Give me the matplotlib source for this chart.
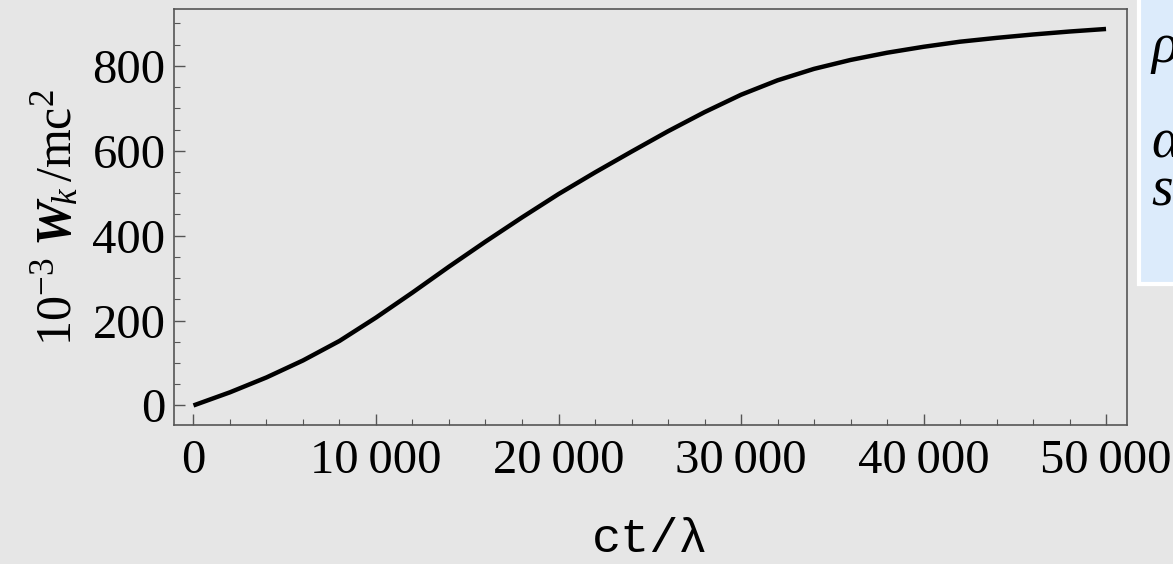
import matplotlib
matplotlib.use("Agg")
import matplotlib.pyplot as plt
from matplotlib.ticker import MultipleLocator, FuncFormatter
from matplotlib.patches import Rectangle

# curve
ct = [0, 2000, 4000, 6000, 8000, 10000, 12000, 14000, 16000, 18000, 20000,
      22000, 24000, 26000, 28000, 30000, 32000, 34000, 36000, 38000, 40000,
      42000, 44000, 46000, 48000, 50000]
wk = [0, 31, 66, 106, 152, 207, 266, 327, 386, 443, 498,
      549, 598, 646, 691, 732, 766, 793, 814, 831, 845,
      857, 866, 874, 881, 887]

xticks = [0, 10000, 20000, 30000, 40000, 50000]
yticks = [0, 200, 400, 600, 800]
box_labels = ["ρ", "α", "s"]
box_baselines = [62, 157, 206]  # pixel rows of the box lines

plt.rcParams["mathtext.fontset"] = "custom"
plt.rcParams["mathtext.rm"] = "Liberation Serif"
plt.rcParams["mathtext.it"] = "Liberation Serif:italic"
plt.rcParams["mathtext.bf"] = "Liberation Serif:bold"
plt.rcParams["mathtext.bfit"] = "Liberation Serif:italic:bold"
bg = "#e6e6e6"

fig = plt.figure(figsize=(11.73, 5.64), dpi=100, facecolor=bg)
ax = fig.add_axes([0.1483, 0.2465, 0.8125, 0.7375])
ax.set_facecolor(bg)

ax.plot(ct, wk, color="black", lw=3.2, solid_joinstyle="round",
        solid_capstyle="butt")

ax.set_xlim(-1070, 51150)
ax.set_ylim(-46, 934)
ax.set_xticks(xticks)
ax.set_yticks(yticks)
ax.xaxis.set_minor_locator(MultipleLocator(2000))
ax.yaxis.set_minor_locator(MultipleLocator(50))
ax.xaxis.set_major_formatter(FuncFormatter(
    lambda v, p: "0" if v == 0 else f"{int(v) // 1000}\u2009000"))

ax.tick_params(which="both", direction="in", top=False, right=False,
               colors="#555555", labelcolor="black")
ax.tick_params(which="major", length=8, width=1)
ax.tick_params(which="minor", length=4, width=0.8)
ax.tick_params(axis="x", pad=10)
ax.tick_params(axis="y", pad=6)
for lab in ax.get_xticklabels() + ax.get_yticklabels():
    lab.set_fontfamily("Liberation Serif")
    lab.set_fontsize(35)
for s in ax.spines.values():
    s.set_color("#555555")
    s.set_linewidth(1.2)

ax.set_ylabel(r"$10^{-3}\ \boldsymbol{W}_{\!k}\,/\mathrm{mc}^2$", fontsize=36,
              labelpad=8)
fig.text(0.554, 0.043, "ct/λ", fontsize=35,
         family=["Liberation Mono", "DejaVu Sans Mono"],
         ha="center", va="center")

# parameter box on the right edge (cut off in the reference)
fig.patches.append(Rectangle((1139 / 1173, 1 - 284 / 564), 0.1, 0.6,
                             transform=fig.transFigure, facecolor="#dcebfb",
                             edgecolor="white", lw=3))
for t, row in zip(box_labels, box_baselines):
    fig.text(1151 / 1173, 1 - row / 564, t, fontsize=40,
             family="Liberation Serif", style="italic", va="baseline")

fig.savefig("out.png", dpi=100, facecolor=bg)
